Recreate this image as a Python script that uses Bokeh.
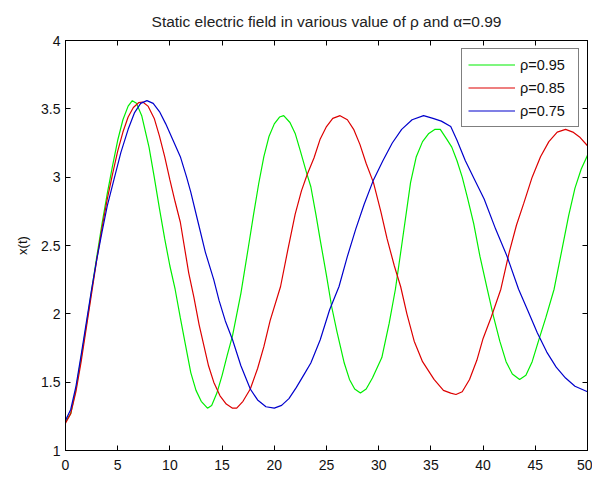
from bokeh.plotting import figure
from bokeh.models import LinearAxis, Range1d, FixedTicker, Legend, LegendItem, CustomJSTickFormatter
from bokeh.embed import file_html
from bokeh.resources import INLINE

# x(t) for rho = 0.95
t_095 = [0, 0.5, 1.0, 1.5, 2.0, 2.5, 3.0, 3.5, 4.0, 4.5, 5.0, 5.5, 6.0, 6.4, 6.8, 7.3,
         8.0, 8.5, 9.0, 9.5, 10.0, 10.5, 11.0, 11.5, 12.0, 12.5, 13.0, 13.6, 14.0, 14.5,
         15.0, 15.5, 16.0, 16.8, 17.5, 18.0, 18.5, 19.0, 19.5, 20.0, 20.5, 20.9, 21.5,
         22.0, 22.5, 23.1, 23.5, 24.0, 24.4, 25.0, 25.5, 26.0, 26.7, 27.2, 27.7, 28.25,
         28.8, 29.4, 30.3, 31.0, 31.6, 32.2, 33.05, 33.6, 34.2, 34.8, 35.4, 35.9, 36.5,
         37.0, 37.5, 38.0, 38.5, 39.1, 39.7, 40.4, 41.0, 41.6, 42.2, 42.8, 43.5, 44.1,
         44.7, 45.3, 46.0, 46.8, 47.5, 48.2, 48.8, 49.4, 50.0]
x_095 = [1.21, 1.27, 1.45, 1.68, 1.92, 2.17, 2.42, 2.66, 2.88, 3.08, 3.27, 3.42, 3.52, 3.56, 3.54, 3.45,
         3.22, 3.00, 2.77, 2.55, 2.35, 2.18, 1.97, 1.77, 1.57, 1.44, 1.36, 1.31, 1.33, 1.42,
         1.55, 1.70, 1.84, 2.15, 2.48, 2.72, 2.95, 3.15, 3.30, 3.39, 3.44, 3.45, 3.40,
         3.32, 3.19, 3.03, 2.93, 2.72, 2.54, 2.28, 2.05, 1.87, 1.64, 1.52, 1.45, 1.42,
         1.45, 1.53, 1.68, 1.93, 2.18, 2.50, 2.96, 3.15, 3.26, 3.32, 3.35, 3.35, 3.28,
         3.22, 3.12, 3.00, 2.85, 2.66, 2.42, 2.18, 1.98, 1.80, 1.65, 1.56, 1.52, 1.55,
         1.65, 1.80, 1.97, 2.18, 2.45, 2.72, 2.92, 3.06, 3.16]

# x(t) for rho = 0.85
t_085 = [0, 0.5, 1.0, 1.5, 2.0, 2.5, 3.0, 3.5, 4.0, 4.5, 5.0, 5.5, 6.0, 6.5, 7.0, 7.4,
         7.9, 8.5, 9.0, 9.5, 10.0, 10.5, 11.0, 11.8, 12.3, 12.8, 13.7, 14.2, 14.8, 15.4,
         16.0, 16.4, 17.0, 17.7, 18.4, 19.0, 19.6, 20.6, 21.3, 22.0, 22.6, 23.15, 23.8,
         24.4, 25.0, 25.6, 26.3, 27.0, 27.6, 28.2, 28.8, 29.5, 30.2, 30.8, 31.5, 32.1,
         32.7, 33.4, 34.2, 35.3, 36.2, 36.9, 37.4, 38.0, 38.7, 39.4, 40.0, 40.8, 41.7,
         42.5, 43.2, 43.9, 44.7, 45.5, 46.3, 47.1, 47.9, 48.6, 49.3, 50.0]
x_085 = [1.20, 1.27, 1.43, 1.65, 1.90, 2.15, 2.40, 2.63, 2.84, 3.02, 3.19, 3.33, 3.44, 3.51, 3.545, 3.55,
         3.52, 3.43, 3.30, 3.15, 2.98, 2.82, 2.67, 2.30, 2.12, 1.92, 1.62, 1.50, 1.40, 1.34,
         1.31, 1.31, 1.36, 1.45, 1.60, 1.76, 1.95, 2.20, 2.47, 2.73, 2.90, 3.02, 3.14,
         3.28, 3.37, 3.43, 3.45, 3.42, 3.35, 3.24, 3.10, 2.96, 2.75, 2.55, 2.35, 2.20,
         2.00, 1.80, 1.65, 1.52, 1.44, 1.42, 1.41, 1.43, 1.52, 1.66, 1.82, 1.98, 2.18,
         2.45, 2.65, 2.81, 3.00, 3.15, 3.26, 3.33, 3.35, 3.33, 3.29, 3.23]

# x(t) for rho = 0.75
t_075 = [0, 0.5, 1.0, 1.5, 2.0, 2.5, 3.0, 3.5, 4.0, 4.7, 5.3, 6.0, 6.6, 7.2, 7.8, 8.4,
         9.0, 9.6, 10.3, 11.0, 11.6, 12.0, 12.7, 13.4, 14.2, 14.7, 15.3, 16.0, 16.8, 17.7,
         18.4, 19.2, 20.0, 20.7, 21.4, 22.1, 22.8, 23.5, 24.4, 25.3, 26.2, 27.0, 27.8,
         28.6, 29.5, 30.4, 31.3, 32.2, 33.2, 34.3, 35.2, 36.0, 36.9, 37.5, 38.3, 39.2,
         40.1, 41.2, 42.3, 43.4, 44.3, 45.2, 46.1, 47.0, 47.9, 48.8, 50.0]
x_075 = [1.22, 1.30, 1.47, 1.70, 1.94, 2.18, 2.40, 2.60, 2.79, 3.00, 3.18, 3.35, 3.47, 3.54, 3.56, 3.54,
         3.48, 3.39, 3.27, 3.15, 3.00, 2.89, 2.67, 2.45, 2.25, 2.10, 1.95, 1.81, 1.62, 1.45,
         1.37, 1.32, 1.31, 1.33, 1.38, 1.46, 1.55, 1.64, 1.81, 2.03, 2.20, 2.42, 2.62,
         2.80, 2.98, 3.12, 3.25, 3.35, 3.42, 3.45, 3.43, 3.41, 3.37, 3.27, 3.12, 2.98,
         2.84, 2.62, 2.42, 2.18, 2.02, 1.86, 1.72, 1.61, 1.53, 1.47, 1.43]

series_labels = ["\u03c1=0.95", "\u03c1=0.85", "\u03c1=0.75"]
series_colors = ["#00ee00", "#dd0000", "#0000cc"]

x_ticks = [0, 5, 10, 15, 20, 25, 30, 35, 40, 45, 50]
y_ticks = [1, 1.5, 2, 2.5, 3, 3.5, 4]

FONT = "Liberation Sans"

p = figure(width=592, height=481, output_backend="svg", toolbar_location=None,
           x_range=Range1d(0, 50), y_range=Range1d(1, 4),
           min_border_left=65, min_border_right=5, min_border_top=40, min_border_bottom=31,
           background_fill_color="white", border_fill_color="white")
p.outline_line_color = "black"
p.grid.visible = False

p.title.text = "Static electric field in various value of \u03c1 and \u03b1=0.99"
p.title.align = "center"
p.title.text_font = FONT
p.title.text_font_size = "15.5px"
p.title.text_font_style = "normal"
p.title.text_color = "#222222"
p.title.standoff = 21

def style_axis(ax):
    ax.major_tick_in = 5
    ax.major_tick_out = 0
    ax.minor_tick_line_color = None
    ax.axis_line_color = "black"
    ax.major_tick_line_color = "black"
    ax.major_label_text_font = FONT
    ax.major_label_text_font_size = "14px"
    ax.major_label_text_color = "#111111"
    ax.axis_label_text_font = FONT
    ax.axis_label_text_font_size = "13px"
    ax.axis_label_text_font_style = "normal"
    ax.axis_label_text_color = "#111111"

p.xaxis.ticker = FixedTicker(ticks=x_ticks)
p.yaxis.ticker = FixedTicker(ticks=y_ticks)
p.xaxis.major_label_overrides = {v: str(v) for v in x_ticks}
p.yaxis.major_label_overrides = {v: ("%g" % v) for v in y_ticks}
style_axis(p.xaxis[0])
style_axis(p.yaxis[0])
p.xaxis.major_label_standoff = 9
p.yaxis.major_label_standoff = 5
p.yaxis.axis_label = "x(t)"
p.yaxis.axis_label_standoff = 8

# tick-only frame axes on the top and right edges
top_ax = LinearAxis(ticker=FixedTicker(ticks=x_ticks))
right_ax = LinearAxis(ticker=FixedTicker(ticks=y_ticks))
for ax in (top_ax, right_ax):
    style_axis(ax)
    ax.formatter = CustomJSTickFormatter(code="return '';")
    ax.major_label_standoff = 0
p.add_layout(top_ax, "above")
p.add_layout(right_ax, "right")

renderers = []
for t, x, c in zip([t_095, t_085, t_075], [x_095, x_085, x_075], series_colors):
    renderers.append(p.line(t, x, line_color=c, line_width=1.2))

legend = Legend(items=[LegendItem(label=l, renderers=[r]) for l, r in zip(series_labels, renderers)],
                location="top_right")
legend.margin = 8
legend.padding = 6
legend.spacing = 4
legend.label_height = 19
legend.glyph_height = 19
legend.glyph_width = 47
legend.label_standoff = 5
legend.label_width = 52
legend.label_text_font = FONT
legend.label_text_font_size = "14.5px"
legend.label_text_color = "#111111"
legend.border_line_color = "black"
legend.border_line_width = 1
legend.background_fill_color = "white"
legend.background_fill_alpha = 1.0
p.add_layout(legend, "center")

open("out.html", "w").write(file_html(p, INLINE))
